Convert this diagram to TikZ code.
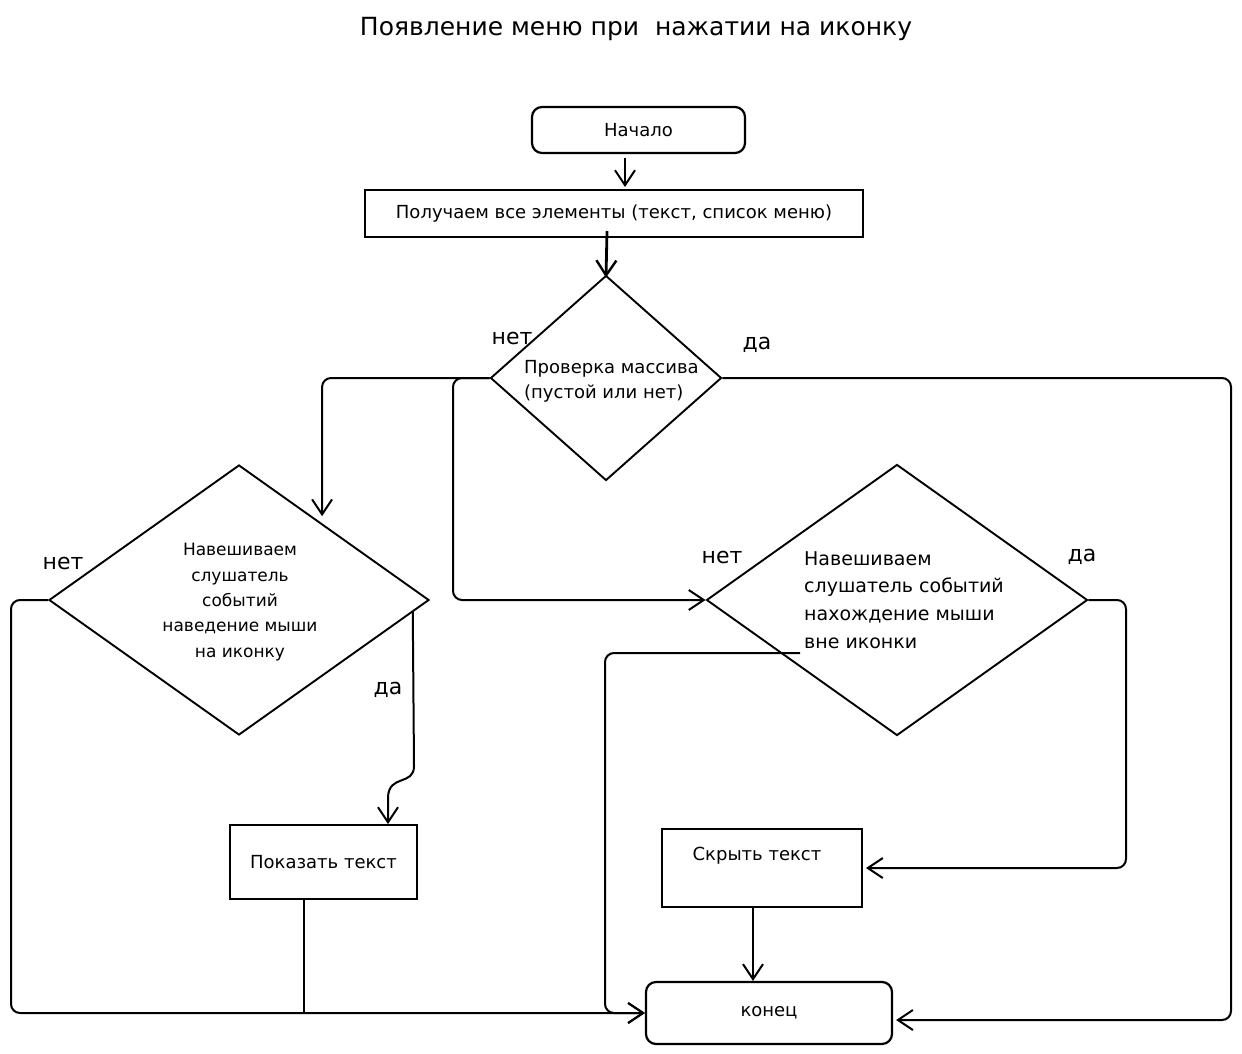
\documentclass[tikz,border=0pt]{standalone}
\usepackage{fontspec}
\setmainfont{DejaVu Sans}
\usetikzlibrary{shapes.geometric,arrows.meta,calc}
\begin{document}
\begin{tikzpicture}[x=1pt,y=-1pt,
  txt/.style={font=\fontsize{18}{25}\selectfont, inner sep=0pt},
  lbl/.style={font=\fontsize{22}{25}\selectfont, inner sep=0pt},
  term/.style={draw, line width=2.2pt, rounded corners=10pt, inner sep=0pt, font=\fontsize{18}{22}\selectfont},
  proc/.style={draw, line width=2pt, inner sep=0pt, font=\fontsize{18}{22}\selectfont},
  dec/.style={diamond, draw, line width=1.9pt, inner sep=0pt},
  tip/.style={-{Straight Barb[length=15pt,width=20pt,line width=2pt]}},
  conn/.style={line width=2pt, rounded corners=9pt, tip},
  plain/.style={line width=2pt, rounded corners=9pt}]
\useasboundingbox (0,0) rectangle (1242,1054);

% title
\node[font=\fontsize{25}{30}\selectfont, inner sep=0pt] (title) at (636,29) {Появление меню при\ \ нажатии на иконку};

% nodes
\node[term, minimum width=213, minimum height=46] (start) at (638.5,130) {Начало};
\node[proc, minimum width=498, minimum height=47] (get) at (614,213.5) {Получаем все элементы (текст, список меню)};
\node[dec, minimum width=231, minimum height=205] (d1) at (606,378) {};
\node[txt, align=left, anchor=west] (d1t) at (524,381) {Проверка массива\\(пустой или нет)};
\node[dec, minimum width=380, minimum height=270] (d2) at (239,600) {};
\node[txt, align=center, font=\fontsize{17}{25.3}\selectfont] (d2t) at (240,602) {Навешиваем\\слушатель\\событий\\наведение мыши\\на иконку};
\node[dec, minimum width=381, minimum height=271] (d3) at (897,600) {};
\node[txt, align=left, anchor=west, font=\fontsize{19}{27.7}\selectfont] (d3t) at (804,600) {Навешиваем\\слушатель событий\\нахождение мыши\\вне иконки};
\node[proc, minimum width=187, minimum height=74] (show) at (323.5,862) {Показать текст};
\node[proc, minimum width=200, minimum height=78] (hide) at (762,868) {};
\node[txt] (hidet) at (757,856) {Скрыть текст};
\node[term, minimum width=246, minimum height=62] (end) at (769,1013) {конец};

% labels
\node[lbl] (n1) at (512,338) {нет};
\node[lbl] (y1) at (757,345) {да};
\node[lbl] (n2) at (63,563) {нет};
\node[lbl] (y2) at (388,690) {да};
\node[lbl] (n3) at (722,557) {нет};
\node[lbl] (y3) at (1082,557) {да};

% helper coordinates
\coordinate (L) at (11,0);
\coordinate (R) at (1231,0);
\coordinate (B1) at (453,0);
\coordinate (Y2) at (1126,0);
\coordinate (M3) at (605,0);
\coordinate (p3) at (800,653);
\coordinate (w1) at (414,766);
\coordinate (w2) at (388,797);

% connectors
\draw[conn, shorten <=4pt, shorten >=2pt] ([xshift=-13.5pt]start.south) -- ([xshift=-13.5pt]start.south |- get.north);
\draw[line width=2.8pt, -{Straight Barb[length=15pt,width=20pt,line width=2.4pt]}] ([xshift=-7pt,yshift=7pt]get.south) -- ([yshift=-3pt]d1.north);
\draw[conn, shorten >=7pt] (d1.west) -| ($(d2.north)!0.435!(d2.east)$);
\draw[conn] (d1.west) -- (B1 |- d1.west) |- (d3.west);
\draw[conn, shorten >=3pt] (d1.east) -| ([yshift=-7pt]R |- end.east) -- ([yshift=-7pt]end.east);
\draw[conn] (d2.west) -| (L |- end.west) -- (end.west);
\draw[line width=2pt, tip] ($(d2.east)!0.09!(d2.south)$) -- (w1) .. controls (414,786) and (389,774) .. (w2) -- ([xshift=64.5pt]show.north);
\draw[plain, line width=2.4pt] ([xshift=-19.5pt]show.south) -- ([xshift=-19.5pt]show.south |- end.west);
\draw[conn, shorten >=3pt] (d3.east) -| (Y2 |- hide.east) -- (hide.east);
\draw[conn] (p3) -| (M3 |- end.west) -- (end.west);
\draw[conn] ([xshift=-9pt]hide.south) -- ([xshift=-9pt]hide.south |- end.north);
\end{tikzpicture}
\end{document}
